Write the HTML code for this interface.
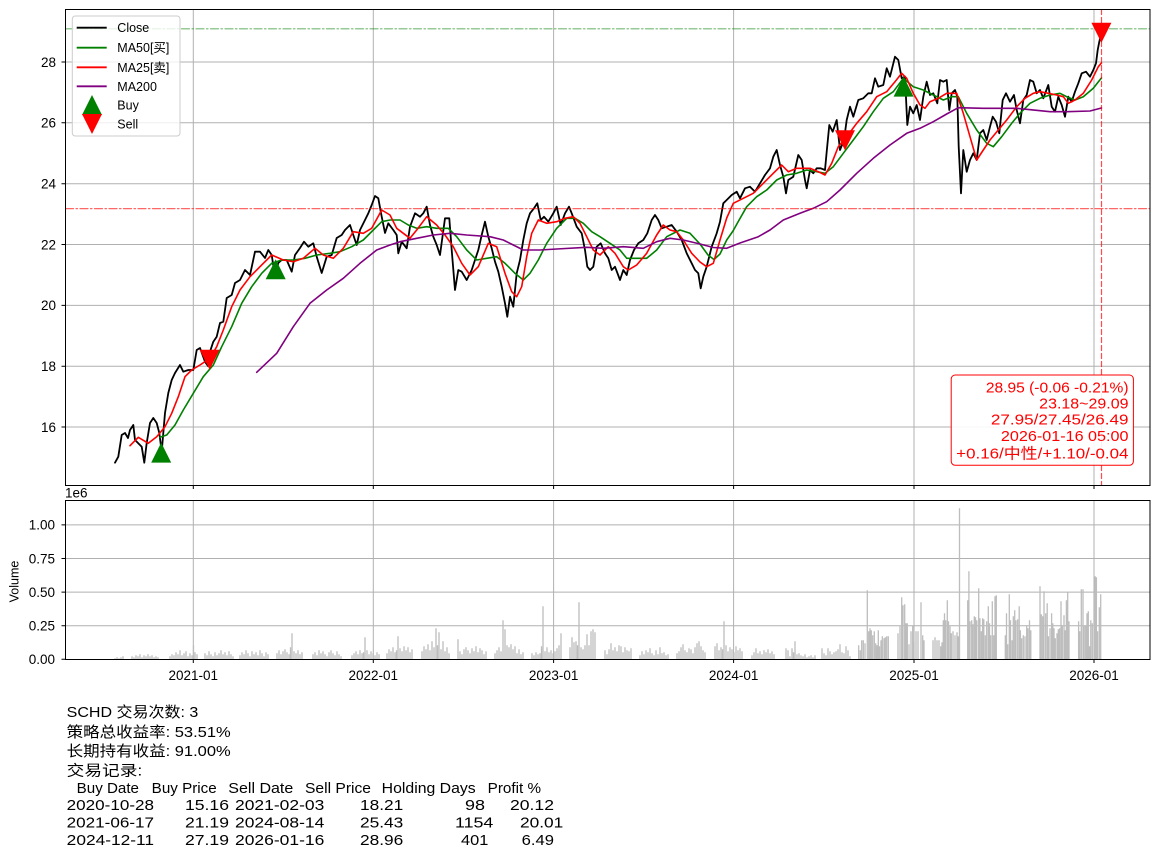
<!DOCTYPE html>
<html>
<head>
<meta charset="utf-8">
<style>
  html,body{margin:0;padding:0;background:#fff;}
  svg{display:block;}
  text{font-family:"Liberation Sans","Noto Sans CJK SC",sans-serif;}
</style>
</head>
<body>
<svg width="1160" height="857" viewBox="0 0 1160 857" xmlns="http://www.w3.org/2000/svg">
  <rect x="0" y="0" width="1160" height="857" fill="#fff"/>
  <defs>
    <clipPath id="cm"><rect x="65.5" y="9.5" width="1084.5" height="476"/></clipPath>
    <clipPath id="cv"><rect x="65.5" y="500.5" width="1084.5" height="159"/></clipPath>
  </defs>

  <!-- ===== MAIN AXES ===== -->
  <g stroke="#b0b0b0" stroke-width="1" fill="none">
    <path d="M193.3 9.5V485.5M373.3 9.5V485.5M553.6 9.5V485.5M733.6 9.5V485.5M914 9.5V485.5M1094 9.5V485.5"/>
    <path d="M65.5 62H1150M65.5 122.8H1150M65.5 183.7H1150M65.5 244.5H1150M65.5 305.4H1150M65.5 366.2H1150M65.5 427H1150"/>
  </g>

  <g clip-path="url(#cm)" fill="none" stroke-linejoin="round" stroke-linecap="round">
    <!-- Close -->
    <polyline stroke="#000" stroke-width="1.8" points="115,462.7 118.3,456.7 121.7,435 125,433 128,438 130,430 133.3,425 135,440 138,443 141.7,446.7 144.3,462.7 146.7,443 150,423 153.3,418 156.7,423 159.3,433 161.7,451.7 165,413 168.3,393 171.7,380 175,373 180,365 183.3,371.7 188.3,370 193.3,370 196.7,350 200,348 205,361.7 208,366 210,351.7 213.3,341.7 216.7,336.7 220,323 223.3,321.7 226.7,298 231.7,295 235,283 240,280 245,270 250,275 255,251.7 260,251.7 265,258 268.3,250 271.7,255 275,276.7 278.3,263 281.7,260 286.7,260 291.7,271.7 295,255 300,248 304,241.7 308.3,246.7 313.3,243.3 316.7,256.7 321.7,273 326.7,256.7 331.7,255 336.7,238 341.7,235 345,230 350,225 353.3,235 356.7,245 360,230 365,220 368.3,213.3 371.7,205 375,196 378.3,198.3 381.7,216.7 385,233 388.3,223.3 393.3,230 396.7,235 398.3,253.3 401.7,241.7 406.7,248.3 410,226.7 415,213.3 420,216.7 423.3,213.3 426.7,206.7 430,225 433.3,236.7 436.7,245 440,255 445,218.3 449.3,218.3 451.7,250 455,290 458.3,270 461.7,271.7 466.7,280 471.7,270 475,260 478.3,250 481.7,235 485,221.7 488.3,236.7 491.7,248.3 495,261.7 498.3,271.7 501.7,286.7 505,303.3 507.3,316.7 510,296.7 513.3,306.7 516.7,273.3 520,260 523.3,240 526.7,223.3 530,213.3 534,208.3 537.3,203.3 540.7,220 544,216.7 548.3,221.7 553.3,213.3 556.7,206.7 560.7,225 565,213.3 569,206.7 571.7,213.3 576.7,226.7 581.7,233.3 585,250 587.3,266.7 590,270 593.3,266.7 596.7,246.7 600.7,243.3 605,253.3 608.3,258.3 611.7,270 615,266.7 620,280 623.3,270 626.7,275 630,260 634,250 638.3,243.3 643.3,240 647.3,233.3 651.7,220 655,215 658.3,220 661.7,228.3 666.7,226.7 671.7,225 676.7,231.7 681.7,240 686.7,253.3 691.7,263.3 695,270 698.3,273.3 700.7,288.3 703.3,276.7 706.7,266.7 711.7,246.7 716.7,233.3 720,221.7 723.3,203.3 726.7,200 731.7,195 736.7,191.7 740,198.3 745,188.3 750,186.7 755,191.7 760,183.3 765,175 770,168.3 773.3,156.7 776.7,150 780,165 783.3,176.7 786,193.3 788.3,180 793.3,176.7 798.3,155 801.7,160 805,180 806.7,188.3 810,170 813.3,173.3 816.7,168.3 820.7,168.3 825,170 826.7,151.7 829.3,125 832.7,131.7 836.7,120 840,150 844,140 846.7,120 850,106.7 853.3,116.7 858.3,100 863.3,98.3 868.3,93.3 871.7,93.3 875,78.3 878.3,86.7 883.3,85 886.7,68.3 890,76.7 895,56.7 898.3,60 901.7,78.3 905,76.7 907.3,125 910,106.7 913.3,113.3 916.7,105 920,120 923.3,96.7 926.7,81.7 930,95 933.3,93.3 937.3,103.3 940,80 943.3,81.7 946.7,80 949.3,110 951.7,93.3 955,90 957.3,96.7 958.7,146.7 961,193.3 963.3,150 966.7,171.7 970,160 973.3,153.3 976.7,160 980,133.3 983.3,130 986.7,140 990,126.7 992.7,116.7 996,121.7 999.3,133.3 1002.7,100 1006,93.3 1010,101.7 1014,95 1016.7,110 1020,123.3 1023.3,100 1026.7,95 1030,80 1033.3,81.7 1036.7,93.3 1040,90 1043.3,98.3 1048.3,85 1051.7,106.7 1055,111.7 1058.3,96.7 1061.7,105 1065,116.7 1068.3,96.7 1071.7,101.7 1075,91.7 1078.3,83.3 1081.7,73.3 1086,71.7 1090,76.7 1093.3,70 1096,63.3 1097.7,50 1099.3,41.7 1101.4,33"/>
    <!-- MA50 -->
    <polyline stroke="#008000" stroke-width="1.6" points="160,437.3 166.7,435 175,425 183.3,410 193.3,393.3 203.3,376.7 213.3,365 221.7,346.7 231.7,326.7 241.7,303.3 251.7,286.7 261.7,273.3 271.7,263.3 281.7,260 293.3,260 305,258.3 316.7,255 330,253.3 340,251.7 351.7,246.7 363.3,240 373.3,230 381.7,221.7 390,220 400,220 408.3,225 416.7,228.3 426.7,226.7 436.7,228.3 448.3,228.3 456.7,236.7 466.7,250 476.7,260 486.7,258.3 496.7,256.7 505,263.3 515,273.3 523.3,280 530,273.3 538.3,260 546.7,243.3 556.7,228.3 566.7,218.3 575,218.3 583.3,223.3 591.7,231.7 600,236.7 610,243.3 620,250 626.7,258.3 636.7,258.3 646.7,258.3 656.7,250 666.7,236.7 680,230 690,233.3 700,244 708,255 714,259.5 720,254 726.7,240 733,231 738,222 746.7,206.7 756.7,196.7 766.7,190 776.7,180 786.7,175 796.7,173.3 806.7,170 816.7,171.7 825,173.3 833.3,166.7 843.3,153.3 853.3,140 863.3,126.7 873.3,111.7 883.3,98.3 893.3,91.7 903.3,78.3 913.3,86.7 923.3,90 933.3,95 943.3,100 951.7,96.7 958.3,96.7 966.7,113.3 976.7,130 986.7,143.3 993.3,146.7 1001.7,136.7 1011.7,123.3 1020,113.3 1030,103.3 1040,98.3 1050,95 1060,93.3 1066.7,96.7 1075,100 1083.3,96.7 1093.3,88.3 1101.4,78"/>
    <!-- MA25 -->
    <polyline stroke="#ff0000" stroke-width="1.6" points="130,445.7 138.3,437.3 148.3,443.3 156.7,436.7 165,426.7 171.7,413.3 178.3,396.7 185,376.7 191.7,370 200,365 210,358.3 216.7,346.7 223.3,330 231.7,306.7 240,290 250,276.7 260,266.7 271.7,255 283.3,260 293.3,261.7 303.3,258.3 315,248.3 323.3,255 333.3,258.3 343.3,248.3 353.3,231.7 363.3,233.3 371.7,228.3 381.7,210 390,215 396.7,228.3 403.3,233.3 410,238.3 416.7,230 426.7,216.7 436.7,225 445,235 453.3,246.7 461.7,263.3 470,275 478.3,266.7 488.3,243.3 496.7,246.7 505,273.3 511.7,291.7 516.7,296.7 521.7,286.7 526.7,256.7 531.7,233.3 538.3,220 546.7,223.3 556.7,221.7 565,218.3 573.3,216.7 580,223.3 586.7,236.7 593.3,250 600,255 608.3,246.7 615,253.3 623.3,266.7 628.3,270 636.7,265 646.7,253.3 656.7,235 663.3,225 670,230 676.7,231.7 683.3,240 691.7,253.3 700,262 706.7,266.7 713.3,263.3 720,240 726.7,218 733.3,203.3 743.3,198.3 753.3,193.3 763.3,183.3 773.3,173.3 781.7,165 788.3,171.7 796.7,168.3 803.3,168.3 810,168.3 818.3,171.7 825,175 831.7,163.3 838.3,146.7 846.7,136.7 856.7,123.3 866.7,111.7 876.7,96.7 886.7,91.7 895,81.7 901.7,73.3 906.7,78.3 913.3,93.3 920,105 925,108.3 930,101.7 938.3,98.3 946.7,93.3 956.7,93.3 963.3,113.3 970,136.7 976.7,160 983.3,150 990,140 998.3,130 1006.7,120 1016.7,106.7 1025,98.3 1033.3,93.3 1040,91.7 1048.3,93.3 1056.7,95 1063.3,96.7 1068.3,103.3 1075,100 1083.3,93.3 1091.7,80 1098.3,66.7 1101.4,63"/>
    <!-- MA200 -->
    <polyline stroke="#800080" stroke-width="1.6" points="256.7,372.3 276.7,353.3 293.3,326.7 310,303.3 326.7,290 343.3,278.3 360,263.3 376.7,250 390,245 400,241.7 416.7,238.3 433.3,235 450,233.3 466.7,235 490,236.7 503.3,240 513.3,245 523.3,250 540,250 556.7,249 586.7,247.3 603.3,248.3 623.3,246.7 643.3,248.3 656.7,241.7 670,238.3 683.3,240 700,244 713.3,247.5 726.7,248.3 740,243 758.3,236.7 770,230 783.3,220 800,213.3 813.3,208.3 826.7,201.7 840,190 856.7,173.3 873.3,158.3 890,145 906.7,133.3 920,128.3 933.3,121.7 946.7,114 958.3,107.7 983.3,108.3 1016.7,108.3 1050,111.7 1066.7,111.7 1090,111 1101.4,108"/>

    <!-- reference lines -->
    <path d="M65.5 28.8H1150" stroke="#008000" stroke-opacity="0.55" stroke-width="1.2" stroke-dasharray="8,2.5,1.5,2.5"/>
    <path d="M65.5 208.6H1150" stroke="#ff0000" stroke-opacity="0.6" stroke-width="1.2" stroke-dasharray="8,2.5,1.5,2.5"/>
    <path d="M1101.5 9.5V485.5" stroke="#ff0000" stroke-opacity="0.7" stroke-width="1.2" stroke-dasharray="5,3"/>

    <!-- buy markers -->
    <g fill="#008000" stroke="none">
      <polygon points="161.2,442.6 151.2,462.6 171.2,462.6"/>
      <polygon points="275.7,259.2 265.7,279.2 285.7,279.2"/>
      <polygon points="903.6,76.6 893.6,96.6 913.6,96.6"/>
    </g>
    <!-- sell markers -->
    <g fill="#ff0000" stroke="none">
      <polygon points="209.6,369.8 199.6,349.8 219.6,349.8"/>
      <polygon points="845,150.2 835,130.2 855,130.2"/>
      <polygon points="1101.4,42.8 1091.4,22.8 1111.4,22.8"/>
    </g>
  </g>

  <!-- main spines -->
  <rect x="65.5" y="9.5" width="1084.5" height="476" fill="none" stroke="#000" stroke-width="1"/>
  <!-- main ticks -->
  <g stroke="#000" stroke-width="1">
    <path d="M61.5 62H65.5M61.5 122.8H65.5M61.5 183.7H65.5M61.5 244.5H65.5M61.5 305.4H65.5M61.5 366.2H65.5M61.5 427H65.5"/>
    <path d="M193.3 485.5V489M373.3 485.5V489M553.6 485.5V489M733.6 485.5V489M914 485.5V489M1094 485.5V489"/>
  </g>
  <g font-size="13.5" fill="#000" text-anchor="end">
    <text x="56" y="66.8">28</text>
    <text x="56" y="127.6">26</text>
    <text x="56" y="188.5">24</text>
    <text x="56" y="249.3">22</text>
    <text x="56" y="310.2">20</text>
    <text x="56" y="371">18</text>
    <text x="56" y="431.8">16</text>
  </g>

  <!-- legend -->
  <rect x="72.3" y="16" width="107.7" height="120" rx="3" ry="3" fill="#fff" fill-opacity="0.8" stroke="#cccccc" stroke-width="1"/>
  <g stroke-width="1.8">
    <path d="M76.7 27.7H106.7" stroke="#000"/>
    <path d="M76.7 47.7H106.7" stroke="#008000"/>
    <path d="M76.7 67.3H106.7" stroke="#ff0000"/>
    <path d="M76.7 86.3H106.7" stroke="#800080"/>
  </g>
  <polygon points="92,95 82,115 102,115" fill="#008000"/>
  <polygon points="92,134 82,114 102,114" fill="#ff0000"/>
  <g font-size="12.5" fill="#000">
    <text x="117.3" y="32.2">Close</text>
    <text x="117.3" y="52.2">MA50[买]</text>
    <text x="117.3" y="71.8">MA25[卖]</text>
    <text x="117.3" y="90.8">MA200</text>
    <text x="117.3" y="109.5">Buy</text>
    <text x="117.3" y="128.3">Sell</text>
  </g>

  <!-- annotation box -->
  <rect x="951.2" y="375" width="182.2" height="90.3" rx="4" ry="4" fill="#fff" fill-opacity="0.9" stroke="#ff0000" stroke-width="1"/>
  <g font-size="15" fill="#ff0000" text-anchor="end">
    <text x="1128.5" y="392.4" textLength="142.6" lengthAdjust="spacingAndGlyphs">28.95 (-0.06 -0.21%)</text>
    <text x="1128.5" y="408.5" textLength="89.3" lengthAdjust="spacingAndGlyphs">23.18~29.09</text>
    <text x="1128.5" y="424.6" textLength="137.6" lengthAdjust="spacingAndGlyphs">27.95/27.45/26.49</text>
    <text x="1128.5" y="440.8" textLength="127.6" lengthAdjust="spacingAndGlyphs">2026-01-16 05:00</text>
    <text x="1128.5" y="458.4" textLength="172.3" lengthAdjust="spacingAndGlyphs">+0.16/中性/+1.10/-0.04</text>
  </g>

  <!-- ===== VOLUME AXES ===== -->
  <g stroke="#b0b0b0" stroke-width="1" fill="none">
    <path d="M193.3 500.5V659.5M373.3 500.5V659.5M553.6 500.5V659.5M733.6 500.5V659.5M914 500.5V659.5M1094 500.5V659.5"/>
    <path d="M65.5 524.9H1150M65.5 558.5H1150M65.5 592.1H1150M65.5 625.7H1150"/>
  </g>
  <g clip-path="url(#cv)">
  <path fill="none" stroke="#bdbdbd" stroke-width="1.3" d="
M115 659.3v-1M117 659.3v-2M119 659.3v-1M121 659.3v-2M123 659.3v-3
M132 659.3v-3M134 659.3v-2M136 659.3v-4M138 659.3v-3M140 659.3v-5M142 659.3v-2M144 659.3v-4M146 659.3v-3M148 659.3v-5M150 659.3v-3M152 659.3v-4M154 659.3v-2M156 659.3v-3M158 659.3v-2
M170 659.3v-3M172 659.3v-5M174 659.3v-4M176 659.3v-7M178 659.3v-5M180 659.3v-9M182 659.3v-4M184 659.3v-6M186 659.3v-8M188 659.3v-3M190 659.3v-6M192 659.3v-4M193.5 659.3v-14M195 659.3v-7M197 659.3v-5
M205 659.3v-6M207 659.3v-4M209 659.3v-8M211 659.3v-5M213 659.3v-3M215 659.3v-7M217 659.3v-4M219 659.3v-6M221 659.3v-9M223 659.3v-5M225 659.3v-7M227 659.3v-4M229 659.3v-8M231 659.3v-5M233 659.3v-3
M240 659.3v-4M242 659.3v-7M244 659.3v-5M246 659.3v-9M248 659.3v-6M250 659.3v-3M252 659.3v-8M254 659.3v-5M256 659.3v-7M258 659.3v-4M260 659.3v-9M262 659.3v-6M264 659.3v-3M266 659.3v-7M268 659.3v-5
M277 659.3v-6M279 659.3v-9M281 659.3v-5M283 659.3v-8M285 659.3v-10M287 659.3v-7M289 659.3v-5M290.5 659.3v-12M292 659.3v-26M294 659.3v-8M296 659.3v-6M298 659.3v-9M300 659.3v-5M302 659.3v-7
M313 659.3v-5M315 659.3v-7M317 659.3v-4M319 659.3v-9M321 659.3v-6M323 659.3v-8M325 659.3v-5M327 659.3v-3M329 659.3v-7M331 659.3v-9M333 659.3v-6M335 659.3v-4M337 659.3v-8M339 659.3v-5M341 659.3v-3
M352 659.3v-4M354 659.3v-6M356 659.3v-8M358 659.3v-5M360 659.3v-9M362 659.3v-6M363.5 659.3v-7M365 659.3v-22M367 659.3v-9M369 659.3v-5M371 659.3v-8M373 659.3v-6M375 659.3v-4M377 659.3v-7M379 659.3v-5
M387 659.3v-6M389 659.3v-10M391 659.3v-8M393 659.3v-12M395 659.3v-7M396.5 659.3v-9M398 659.3v-23M400 659.3v-11M402 659.3v-8M404 659.3v-13M406 659.3v-9M408 659.3v-12M410 659.3v-7M412 659.3v-10
M422 659.3v-8M424 659.3v-13M426 659.3v-10M428 659.3v-15M430 659.3v-9M432 659.3v-18M434 659.3v-12M436 659.3v-31M437.5 659.3v-14M439 659.3v-27M441 659.3v-10M443 659.3v-18M445 659.3v-8M447 659.3v-12M449 659.3v-6
M458 659.3v-20M460 659.3v-8M462 659.3v-5M464 659.3v-10M466 659.3v-12M468 659.3v-9M470 659.3v-6M472 659.3v-11M474 659.3v-8M476 659.3v-13M478 659.3v-7M480 659.3v-11M482 659.3v-9M484 659.3v-5M486 659.3v-8
M495 659.3v-6M497 659.3v-9M499 659.3v-12M501 659.3v-8M503 659.3v-39M505 659.3v-30M507 659.3v-14M509 659.3v-12M511 659.3v-15M513 659.3v-10M515 659.3v-13M517 659.3v-6M519 659.3v-10M521 659.3v-5M523 659.3v-7
M532 659.3v-6M534 659.3v-4M536 659.3v-7M538 659.3v-5M540 659.3v-6M541.5 659.3v-13M543 659.3v-53M545 659.3v-8M547 659.3v-12M549 659.3v-7M551 659.3v-9M553 659.3v-6M555 659.3v-8M557 659.3v-11M559 659.3v-14M561 659.3v-26
M570 659.3v-12M572 659.3v-22M574 659.3v-17M576 659.3v-18M577.5 659.3v-14M579 659.3v-57M581 659.3v-12M583 659.3v-10M585 659.3v-14M587 659.3v-25M589 659.3v-14M591 659.3v-28M593 659.3v-30M595 659.3v-27
M605 659.3v-9M607 659.3v-5M609 659.3v-10M611 659.3v-16M613 659.3v-9M615 659.3v-12M617 659.3v-8M619 659.3v-14M621 659.3v-13M623 659.3v-7M625 659.3v-12M627 659.3v-9M629 659.3v-8M631 659.3v-11
M640 659.3v-4M642 659.3v-8M644 659.3v-5M646 659.3v-9M648 659.3v-7M650 659.3v-11M652 659.3v-6M654 659.3v-4M656 659.3v-9M658 659.3v-5M660 659.3v-12M662 659.3v-6M664 659.3v-7M666 659.3v-4M668 659.3v-5
M677 659.3v-6M679 659.3v-8M681 659.3v-12M683 659.3v-15M685 659.3v-9M687 659.3v-7M689 659.3v-11M691 659.3v-10M693 659.3v-6M695 659.3v-12M697 659.3v-16M699 659.3v-18M701 659.3v-13M703 659.3v-9M705 659.3v-7
M715 659.3v-13M717 659.3v-16M719 659.3v-9M721 659.3v-12M722.5 659.3v-10M724 659.3v-38M726 659.3v-14M728 659.3v-8M730 659.3v-12M732 659.3v-10M734 659.3v-7M736 659.3v-13M738 659.3v-9M740 659.3v-11M742 659.3v-8
M752 659.3v-4M754 659.3v-7M756 659.3v-11M758 659.3v-6M760 659.3v-8M762 659.3v-5M764 659.3v-9M766 659.3v-7M768 659.3v-10M770 659.3v-6M772 659.3v-8M774 659.3v-5
M786 659.3v-11M788 659.3v-9M790 659.3v-3M792 659.3v-11M793.5 659.3v-7M795 659.3v-18M797 659.3v-5M799 659.3v-6M801 659.3v-4M803 659.3v-3M805 659.3v-5M807 659.3v-2M809 659.3v-3M811 659.3v-4M813 659.3v-2M815 659.3v-4
M822 659.3v-11M824 659.3v-6M826 659.3v-4M828 659.3v-11M830 659.3v-8M832 659.3v-5M834 659.3v-7M836 659.3v-8M838 659.3v-10M840 659.3v-15M842 659.3v-7M844 659.3v-6M846 659.3v-13M848 659.3v-9M850 659.3v-3
M858.7 659.3v-14M860.3 659.3v-9M861.7 659.3v-19M863.3 659.3v-19M865 659.3v-16M867.3 659.3v-69M868.7 659.3v-28M870 659.3v-31M871.3 659.3v-29M872.7 659.3v-24M874.3 659.3v-28M875.7 659.3v-16M877 659.3v-14M878.3 659.3v-29M879.5 659.3v-13M881 659.3v-19M882.3 659.3v-23M884 659.3v-21M885.3 659.3v-22M886.7 659.3v-23M888.3 659.3v-23
M898 659.3v-26M900 659.3v-33M901.7 659.3v-62M903 659.3v-54M904.7 659.3v-55M906 659.3v-36M907.3 659.3v-36M909 659.3v-15M911 659.3v-28M912.7 659.3v-34M914 659.3v-18M916 659.3v-28M918 659.3v-28M921 659.3v-57M922.7 659.3v-24M924 659.3v-19
M933 659.3v-19M935 659.3v-22M937 659.3v-19M939 659.3v-19M940.7 659.3v-13M942 659.3v-17M943.3 659.3v-39M944.5 659.3v-46M945.7 659.3v-39M947.3 659.3v-59M948.5 659.3v-38M950 659.3v-33M951.3 659.3v-26M953 659.3v-28M955 659.3v-24M957 659.3v-27M958.2 659.3v-23M959.5 659.3v-151
M967.7 659.3v-59M968.9 659.3v-88M970 659.3v-38M971.7 659.3v-39M972.9 659.3v-35M974.3 659.3v-43M975.5 659.3v-42M976.8 659.3v-39M978.7 659.3v-71M979.9 659.3v-41M981.3 659.3v-28M982.6 659.3v-41M983.8 659.3v-40M985.3 659.3v-24M986.7 659.3v-38M988.3 659.3v-53M989.5 659.3v-36M990.7 659.3v-24M992.3 659.3v-58M993.7 659.3v-24M995 659.3v-63M996.3 659.3v-64
M1005.3 659.3v-24M1006.5 659.3v-46M1007.7 659.3v-15M1009.3 659.3v-65M1010.5 659.3v-39M1012 659.3v-19M1013.3 659.3v-43M1014.7 659.3v-49M1016 659.3v-39M1017.7 659.3v-40M1019.2 659.3v-53M1020.4 659.3v-29M1021.7 659.3v-21M1023.3 659.3v-24M1025 659.3v-23M1026.7 659.3v-34M1028 659.3v-31M1029.5 659.3v-39M1030.8 659.3v-29
M1040 659.3v-73M1041.3 659.3v-45M1042.7 659.3v-43M1044 659.3v-68M1045.7 659.3v-46M1047.2 659.3v-56M1048.4 659.3v-23M1050 659.3v-31M1051.6 659.3v-46M1052.8 659.3v-36M1054 659.3v-31M1055.3 659.3v-21M1057 659.3v-26M1058.3 659.3v-30M1059.6 659.3v-31M1061 659.3v-58M1062.3 659.3v-34M1064 659.3v-44M1065.2 659.3v-29M1066.4 659.3v-59M1067.7 659.3v-67M1069 659.3v-38
M1078.6 659.3v-38M1079.8 659.3v-28M1081.3 659.3v-70M1083 659.3v-70M1084.2 659.3v-34M1085.7 659.3v-34M1087 659.3v-46M1088.3 659.3v-48M1089.6 659.3v-13M1090.8 659.3v-39M1092.3 659.3v-36M1094 659.3v-67M1095.2 659.3v-83M1096.4 659.3v-82M1097.6 659.3v-28M1099.3 659.3v-52M1100.7 659.3v-65
"/>
  </g>

  <rect x="65.5" y="500.5" width="1084.5" height="159" fill="none" stroke="#000" stroke-width="1"/>
  <g stroke="#000" stroke-width="1">
    <path d="M61.5 524.9H65.5M61.5 558.5H65.5M61.5 592.1H65.5M61.5 625.7H65.5M61.5 659.3H65.5"/>
    <path d="M193.3 659.5V663M373.3 659.5V663M553.6 659.5V663M733.6 659.5V663M914 659.5V663M1094 659.5V663"/>
  </g>
  <g font-size="13.5" fill="#000" text-anchor="end">
    <text x="55" y="529.7">1.00</text>
    <text x="55" y="563.3">0.75</text>
    <text x="55" y="596.9">0.50</text>
    <text x="55" y="630.5">0.25</text>
    <text x="55" y="664.1">0.00</text>
  </g>
  <text x="65" y="497.5" font-size="13.5" fill="#000">1e6</text>
  <text x="0" y="0" font-size="12.5" fill="#000" text-anchor="middle" transform="translate(18.3 581.5) rotate(-90)">Volume</text>

  <g font-size="13.5" fill="#000" text-anchor="middle">
    <text x="193.3" y="679.8">2021-01</text>
    <text x="373.3" y="679.8">2022-01</text>
    <text x="553.6" y="679.8">2023-01</text>
    <text x="733.6" y="679.8">2024-01</text>
    <text x="914" y="679.8">2025-01</text>
    <text x="1094" y="679.8">2026-01</text>
  </g>

  <!-- ===== BOTTOM TEXT ===== -->
  <g font-size="15" fill="#000" lengthAdjust="spacingAndGlyphs">
    <text x="66.7" y="717" textLength="131.6" lengthAdjust="spacingAndGlyphs">SCHD 交易次数: 3</text>
    <text x="66.7" y="737" textLength="164" lengthAdjust="spacingAndGlyphs">策略总收益率: 53.51%</text>
    <text x="66.7" y="756" textLength="164" lengthAdjust="spacingAndGlyphs">长期持有收益: 91.00%</text>
    <text x="66.7" y="775.5" textLength="75.6" lengthAdjust="spacingAndGlyphs">交易记录:</text>

    <text x="76.7" y="793" textLength="62.3" lengthAdjust="spacingAndGlyphs">Buy Date</text>
    <text x="151.7" y="793" textLength="65" lengthAdjust="spacingAndGlyphs">Buy Price</text>
    <text x="228.3" y="793" textLength="65" lengthAdjust="spacingAndGlyphs">Sell Date</text>
    <text x="305" y="793" textLength="66" lengthAdjust="spacingAndGlyphs">Sell Price</text>
    <text x="381.7" y="793" textLength="94" lengthAdjust="spacingAndGlyphs">Holding Days</text>
    <text x="487.7" y="793" textLength="53.3" lengthAdjust="spacingAndGlyphs">Profit %</text>

    <text x="66.7" y="810" textLength="87.3" lengthAdjust="spacingAndGlyphs">2020-10-28</text>
    <text x="185" y="810" textLength="44" lengthAdjust="spacingAndGlyphs">15.16</text>
    <text x="235" y="810" textLength="89.3" lengthAdjust="spacingAndGlyphs">2021-02-03</text>
    <text x="360" y="810" textLength="43.3" lengthAdjust="spacingAndGlyphs">18.21</text>
    <text x="465" y="810" textLength="20" lengthAdjust="spacingAndGlyphs">98</text>
    <text x="510" y="810" textLength="44" lengthAdjust="spacingAndGlyphs">20.12</text>

    <text x="66.7" y="827.5" textLength="87.3" lengthAdjust="spacingAndGlyphs">2021-06-17</text>
    <text x="185" y="827.5" textLength="44" lengthAdjust="spacingAndGlyphs">21.19</text>
    <text x="235" y="827.5" textLength="89.3" lengthAdjust="spacingAndGlyphs">2024-08-14</text>
    <text x="360" y="827.5" textLength="43.3" lengthAdjust="spacingAndGlyphs">25.43</text>
    <text x="455" y="827.5" textLength="38.3" lengthAdjust="spacingAndGlyphs">1154</text>
    <text x="520" y="827.5" textLength="43.3" lengthAdjust="spacingAndGlyphs">20.01</text>

    <text x="66.7" y="845" textLength="87.3" lengthAdjust="spacingAndGlyphs">2024-12-11</text>
    <text x="185" y="845" textLength="44" lengthAdjust="spacingAndGlyphs">27.19</text>
    <text x="235" y="845" textLength="89.3" lengthAdjust="spacingAndGlyphs">2026-01-16</text>
    <text x="360" y="845" textLength="43.3" lengthAdjust="spacingAndGlyphs">28.96</text>
    <text x="461" y="845" textLength="27.3" lengthAdjust="spacingAndGlyphs">401</text>
    <text x="521.7" y="845" textLength="32.3" lengthAdjust="spacingAndGlyphs">6.49</text>
  </g>
</svg>
</body>
</html>
